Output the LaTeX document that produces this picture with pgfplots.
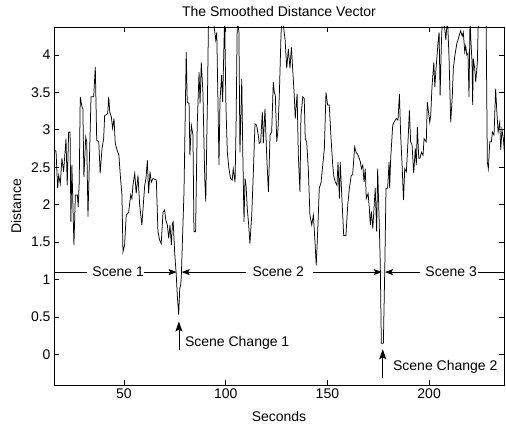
\documentclass[border=0pt]{standalone}
\usepackage{pgfplots}
\pgfplotsset{compat=1.18}
\usepackage{fontspec}
\setmainfont{Liberation Sans}
\usetikzlibrary{arrows.meta}

% smoothed distance vector
\pgfplotstableread{
x y
15.6 2.70
15.9 2.73
16.6 2.71
17.4 2.22
17.9 2.39
18.7 2.28
19.5 2.62
20.3 2.44
20.8 2.62
21.5 2.88
22.1 2.26
22.8 2.97
23.5 2.97
23.9 1.77
24.4 2.53
25.4 1.46
26.1 2.13
27.1 2.13
27.5 1.97
28.0 2.30
28.5 3.44
29.4 3.30
29.8 3.28
30.3 2.37
31.2 2.90
31.7 2.84
32.3 1.84
33.8 3.44
35.1 3.44
35.9 3.84
36.6 2.86
37.6 2.84
38.3 2.42
39.2 2.75
40.0 2.88
40.5 3.19
41.3 3.20
42.0 3.22
42.5 3.44
43.0 3.24
43.8 3.17
44.4 3.02
45.1 3.15
45.7 2.82
46.6 2.73
47.5 2.66
48.2 2.39
49.0 2.13
49.5 1.37
50.3 1.46
51.1 1.86
52.3 1.90
53.3 2.13
53.9 2.08
54.4 2.26
55.3 2.42
56.0 2.15
56.9 2.39
57.7 2.00
58.8 1.73
59.5 2.00
60.2 2.26
60.8 2.35
61.5 2.59
62.1 2.15
62.8 2.44
63.4 2.30
64.3 2.35
65.9 2.33
66.7 1.64
67.5 1.53
68.3 1.48
69.2 1.90
70.0 1.93
70.5 1.80
71.3 1.73
72.0 1.55
72.6 1.73
73.3 1.46
73.8 1.75
74.2 1.77
74.9 1.37
75.7 1.06
76.2 0.79
76.9 0.53
77.4 0.88
77.9 0.93
78.2 1.06
79.5 2.17
80.6 4.04
81.1 3.37
82.0 3.35
82.4 2.66
83.1 3.06
83.9 2.93
84.4 1.64
85.2 1.64
86.0 3.06
86.9 3.77
87.4 3.35
88.0 3.90
88.8 3.50
89.7 2.35
90.2 2.04
91.0 3.35
91.6 4.60
93.4 4.50
94.2 4.40
95.1 4.20
95.6 4.30
96.2 3.37
96.7 2.53
97.2 3.39
98.0 3.73
98.5 3.37
99.2 4.20
99.5 4.50
100.1 3.33
100.8 2.70
101.6 2.48
102.4 2.35
103.2 2.33
103.7 2.48
104.6 2.30
105.1 3.06
105.7 4.50
106.5 4.30
107.0 2.70
107.9 3.68
108.4 2.70
109.0 1.77
109.5 2.35
110.0 2.26
110.6 1.95
111.3 1.73
111.9 1.48
112.8 1.86
113.6 2.44
114.4 3.08
115.2 3.06
116.0 2.93
116.5 2.82
117.2 2.84
118.0 3.24
118.5 2.82
119.3 3.28
120.2 2.62
121.0 2.17
121.8 2.93
122.6 2.97
123.4 3.64
123.9 3.50
124.4 3.46
125.1 2.84
125.7 3.00
126.4 3.50
127.2 4.28
127.7 4.50
128.3 4.40
129.2 4.20
130.0 3.82
130.8 4.08
131.6 3.82
132.3 4.10
132.9 3.82
133.7 3.46
134.2 3.15
135.1 3.48
135.7 2.66
136.5 2.17
137.0 3.19
137.9 3.44
138.6 3.42
139.1 2.88
139.8 2.84
140.6 2.48
141.4 1.86
142.3 1.73
143.1 1.86
143.9 1.50
144.5 1.19
145.4 1.77
146.0 2.22
146.9 2.30
147.7 2.53
148.5 2.75
149.3 3.50
150.1 3.33
150.9 3.33
151.8 2.88
152.6 2.53
153.2 2.37
153.9 2.30
154.7 2.26
155.2 2.57
155.9 2.08
156.3 2.57
157.2 2.04
158.0 1.59
159.1 1.59
160.0 2.00
160.8 2.22
161.7 2.39
162.4 2.40
163.4 2.77
164.1 2.70
164.7 2.68
165.4 2.64
166.2 2.57
166.7 2.48
167.4 2.53
168.0 2.30
168.6 2.48
169.1 2.08
170.0 2.15
170.6 1.95
171.1 1.73
171.6 1.91
172.3 1.68
172.9 1.95
173.5 2.22
174.2 1.64
174.7 2.48
175.4 1.82
176.0 1.19
176.5 0.15
177.5 0.15
178.2 1.15
178.8 2.22
179.6 2.22
180.3 2.57
180.6 2.22
181.1 2.62
182.1 3.06
182.7 3.10
183.9 3.15
184.7 3.13
185.4 3.48
186.0 2.93
186.7 2.53
187.4 2.06
188.0 2.48
188.8 2.44
189.6 2.84
190.3 3.26
190.9 2.84
191.6 2.80
192.4 2.42
193.2 2.75
193.7 2.53
194.2 3.04
194.9 2.62
195.5 2.62
196.2 2.70
197.0 2.66
197.5 2.88
198.6 2.84
199.1 3.37
200.3 3.10
200.8 3.20
201.4 3.57
202.3 3.90
202.8 3.57
203.5 3.86
204.4 4.17
204.9 4.30
205.4 3.46
206.0 4.13
206.5 4.50
207.3 4.45
208.2 4.20
209.0 4.50
209.8 3.95
210.6 3.10
211.4 3.46
211.9 3.82
212.7 4.00
213.6 4.15
214.2 4.20
214.7 4.25
215.5 4.32
216.3 4.25
216.8 4.30
217.5 4.04
218.0 4.12
218.5 4.00
219.1 4.02
219.6 3.44
220.1 4.50
220.5 4.20
221.1 3.90
221.4 3.33
221.7 3.95
222.4 3.82
222.9 3.64
223.7 3.90
224.2 4.50
226.2 4.60
228.0 4.50
228.6 2.57
229.1 2.48
229.8 2.84
230.6 2.84
231.1 2.97
231.9 2.93
232.7 3.55
233.2 3.28
233.9 2.97
234.7 3.10
235.2 2.73
235.8 3.00
236.5 2.88
237.2 2.62
}\dist

\begin{document}
\begin{tikzpicture}[font=\fontsize{14bp}{16bp}\selectfont]
\begin{axis}[name=ax,
  scale only axis, width=450bp, height=358bp,
  xmin=15.6, xmax=236.8, ymin=-0.407, ymax=4.372,
  xtick={50,100,150,200}, ytick={0,0.5,...,4},
  /pgf/number format/assume math mode=true,
  axis line style={black, line width=0.8bp},
  tick style={black, line width=0.6bp}, major tick length=5bp,
  title={The Smoothed Distance Vector},
  every axis title shift=0pt,
  title style={at={([yshift=15.3bp]axis description cs:0.5,1)}, anchor=center, yshift=0pt, inner sep=0pt},
  xlabel={Seconds},
  xlabel style={at={([yshift=-31bp]axis description cs:0.5,0)}, anchor=center, inner sep=0pt},
  ylabel={Distance},
  ylabel style={at={([xshift=-38bp]axis description cs:0,0.5)}, anchor=center, inner sep=0pt},
  clip mode=individual,
]
\addplot[black, line width=0.75bp, no markers] table[x=x, y=y] {\dist};

% scene ranges at y = 1.1
\draw[line width=0.7bp] (axis cs:15.6,1.1) -- (axis cs:31.8,1.1);
\node[anchor=west, inner sep=0pt] at (axis cs:34.4,1.1) {Scene 1};
\draw[line width=0.7bp, -{Stealth[length=8bp,width=6bp,inset=1.5bp]}] (axis cs:59.6,1.1) -- (axis cs:75.9,1.1);
\draw[line width=0.7bp, {Stealth[length=8bp,width=6bp,inset=1.5bp]}-] (axis cs:78.4,1.1) -- (axis cs:110.0,1.1);
\node[anchor=west, inner sep=0pt] at (axis cs:113.1,1.1) {Scene 2};
\draw[line width=0.7bp, -{Stealth[length=8bp,width=6bp,inset=1.5bp]}] (axis cs:142.9,1.1) -- (axis cs:176.7,1.1);
\draw[line width=0.7bp, {Stealth[length=8bp,width=6bp,inset=1.5bp]}-] (axis cs:178.3,1.1) -- (axis cs:195.5,1.1);
\node[anchor=west, inner sep=0pt] at (axis cs:198.1,1.1) {Scene 3};
\draw[line width=0.7bp] (axis cs:224.0,1.1) -- (axis cs:236.8,1.1);

% scene change markers
\draw[line width=0.7bp, -{Stealth[length=10bp,width=7bp,inset=2bp]}] (axis cs:77.0,0.06) -- (axis cs:77.0,0.44);
\node[anchor=west, inner sep=0pt] at (axis cs:79.9,0.15) {Scene Change 1};
\draw[line width=0.7bp, -{Stealth[length=10bp,width=7bp,inset=2bp]}] (axis cs:177.2,-0.32) -- (axis cs:177.2,0.07);
\node[anchor=west, inner sep=0pt] at (axis cs:182.2,-0.16) {Scene Change 2};
\end{axis}
\path (ax.south west) ++(-54bp,-43bp) rectangle ++(506bp,428bp);
\end{tikzpicture}
\end{document}
